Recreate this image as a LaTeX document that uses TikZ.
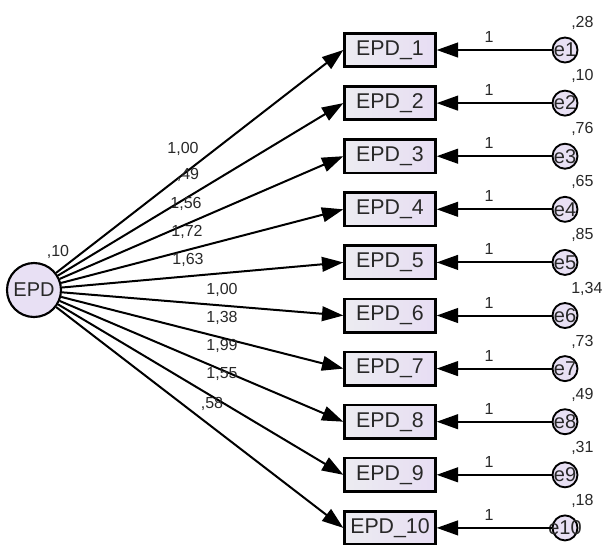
\documentclass[tikz,border=0pt]{standalone}
\usepackage{fontspec}
\setmainfont{Liberation Sans}
\usetikzlibrary{arrows.meta, positioning}
\definecolor{LatentFill}{RGB}{232,224,244}
\definecolor{BoxLeftFill}{RGB}{236,236,241}
\definecolor{BoxRightFill}{RGB}{231,221,243}
\definecolor{TextColor}{RGB}{40,40,40}
\tikzset{
  latent/.style={circle, draw=black, line width=1.6pt, fill=LatentFill, minimum size=40.5pt, inner sep=0pt, text=TextColor, font=\fontsize{15}{17}\selectfont},
  indicator/.style={rectangle, draw=black, line width=2pt, left color=BoxLeftFill, right color=BoxRightFill, minimum width=68pt, minimum height=25pt, inner sep=0pt, text=TextColor, font=\fontsize{16}{18}\selectfont},
  error/.style={circle, draw=black, line width=1.4pt, fill=LatentFill, minimum size=18.75pt, inner sep=0pt, text=TextColor, font=\fontsize{15}{17}\selectfont},
  path/.style={line width=1.5pt, -{Triangle[length=16pt, width=11pt]}},
  estimate/.style={font=\fontsize{12}{14}\selectfont, text=TextColor, inner sep=0pt}
}

\begin{document}
\begin{tikzpicture}[x=0.75pt, y=-0.75pt]
  \useasboundingbox (0,0) rectangle (606,544);

  % Latent factor
  \node[latent] (EPD) at (34,290) {EPD};
  \node[estimate] (EPDvar) at (58,252) {,10};

  % Indicators with their error terms
  \foreach \i/\var in {1/{,28},2/{,10},3/{,76},4/{,65},5/{,85},6/{1,34},7/{,73},8/{,49},9/{,31},10/{,18}} {
    \pgfmathsetmacro\ypos{50+53.1*(\i-1)}
    \node[indicator] (ind\i) at (390,\ypos) {EPD\_\i};
    \node[error] (err\i) at (565,\ypos) {\makebox[0pt]{e\i}};
    \node[estimate, anchor=west] (errvar\i) at (571,\ypos-27) {\var};
    \draw[path] (err\i) -- (ind\i);
    \node[estimate] (one\i) at (489,\ypos-13) {1};
  }

  % Factor loadings
  \foreach \i/\load/\lx/\ly in {1/{1,00}/183/149, 2/{,49}/188/175, 3/{1,56}/186/204,
      4/{1,72}/187/232, 5/{1,63}/188/260, 6/{1,00}/222/290, 7/{1,38}/222/318,
      8/{1,99}/222/346, 9/{1,55}/222/374, 10/{,58}/212/404} {
    \draw[path] (EPD) -- (ind\i.west);
    \node[estimate] (load\i) at (\lx,\ly) {\load};
  }
\end{tikzpicture}
\end{document}
